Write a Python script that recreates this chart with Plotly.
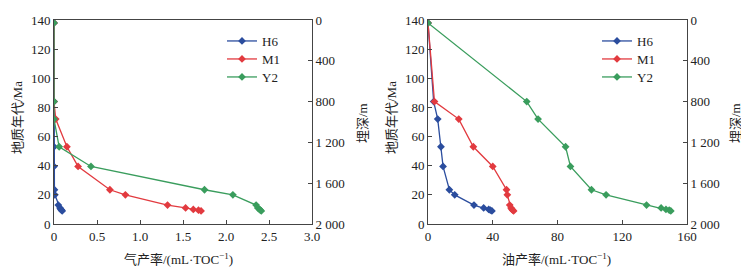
import plotly.graph_objects as go

# Geological age (Ma) of each sample point
ages = [138, 84, 72, 53, 39.5, 23.5, 20, 13, 11, 10, 9.5, 9]

# Gas generation rate (mL/TOC)
gas_H6 = [0, 0, 0, 0, 0, 0.005, 0.01, 0.05, 0.07, 0.08, 0.09, 0.095]
gas_M1 = [0, 0, 0.02, 0.15, 0.28, 0.65, 0.83, 1.32, 1.53, 1.62, 1.68, 1.71]
gas_Y2 = [0, 0, 0, 0.06, 0.43, 1.75, 2.08, 2.35, 2.37, 2.39, 2.40, 2.41]

# Oil generation rate (mL/TOC)
oil_H6 = [0, 3.5, 6, 8, 9.3, 13.2, 16.5, 28.4, 34.4, 37.5, 38.5, 39.5]
oil_M1 = [0, 4, 19, 28, 40, 48.5, 49, 50.5, 51.3, 51.9, 52.4, 52.9]
oil_Y2 = [0, 61, 68, 85, 88, 101, 110, 135, 144, 147, 149, 150]

series_names = ["H6", "M1", "Y2"]
colors = ["#2b4d9e", "#e23a3f", "#3a9d5d"]

age_ticks = [0, 20, 40, 60, 80, 100, 120, 140]
depth_ticks = [0, 400, 800, 1200, 1600, 2000]
depth_labels = ["0", "400", "800", "1 200", "1 600", "2 000"]
gas_ticks = [0, 0.5, 1.0, 1.5, 2.0, 2.5, 3.0]
gas_labels = ["0", "0.5", "1.0", "1.5", "2.0", "2.5", "3.0"]
oil_ticks = [0, 40, 80, 120, 160]

FONT = "Liberation Serif, Times New Roman, Noto Sans CJK SC, serif"
OFF = 8                      # page body margin
W, H = 749 - OFF, 277 - OFF  # figure size
# plot area in window pixels: x 54..687, y 20..224
ML, MR = 54 - OFF, (749 - 687)
MT, MB = 20 - OFF, 277 - 224
PW = W - ML - MR
PH = H - MT - MB


def px(x):   # window pixel -> paper x
    return (x - OFF - ML) / PW


def py(y):   # window pixel -> paper y
    return (H - MB - (y - OFF)) / PH


fig = go.Figure()
legend_rows = [41, 59, 77]
for i, (name, col, g) in enumerate(zip(series_names, colors, [gas_H6, gas_M1, gas_Y2])):
    fig.add_trace(go.Scatter(x=g, y=ages, name=name, mode="lines+markers",
                             line=dict(color=col, width=1.3),
                             marker=dict(symbol="diamond", size=6, color=col),
                             xaxis="x", yaxis="y", legend=f"legend{i + 1 if i else ''}"))
for i, (name, col, o) in enumerate(zip(series_names, colors, [oil_H6, oil_M1, oil_Y2])):
    fig.add_trace(go.Scatter(x=o, y=ages, name=name, mode="lines+markers",
                             line=dict(color=col, width=1.3),
                             marker=dict(symbol="diamond", size=6, color=col),
                             xaxis="x2", yaxis="y3", legend=f"legend{i + 4}"))
# placeholder traces so the depth axes are drawn
fig.add_trace(go.Scatter(x=[None], y=[None], xaxis="x", yaxis="y2",
                         showlegend=False, hoverinfo="skip"))
fig.add_trace(go.Scatter(x=[None], y=[None], xaxis="x2", yaxis="y4",
                         showlegend=False, hoverinfo="skip"))

axis_common = dict(showline=True, linecolor="#444", linewidth=1, ticks="inside",
                   ticklen=4, tickcolor="#444", showgrid=False, zeroline=False,
                   automargin=False,
                   tickfont=dict(family=FONT, size=13, color="#222"))

d1 = [0, (312 - 54) / PW]
d2 = [(428 - 54) / PW, 1]

legends = {}
for i in range(6):
    key = "legend" if i == 0 else f"legend{i + 1}"
    lx = 222 if i < 3 else 597
    ly = legend_rows[i % 3]
    legends[key] = dict(x=px(lx), y=py(ly), xanchor="left", yanchor="middle",
                        bgcolor="rgba(0,0,0,0)", font=dict(family=FONT, size=13),
                        borderwidth=0)

fig.update_layout(
    width=W, height=H,
    margin=dict(l=ML, r=MR, t=MT, b=MB),
    paper_bgcolor="white", plot_bgcolor="white",
    font=dict(family=FONT, size=13, color="#222"),
    xaxis=dict(domain=d1, range=[0, 3], tickvals=gas_ticks, ticktext=gas_labels,
               mirror=True, anchor="y", **axis_common),
    yaxis=dict(range=[0, 140], tickvals=age_ticks, anchor="x", **axis_common),
    yaxis2=dict(range=[2000, 0], tickvals=depth_ticks, ticktext=depth_labels,
                overlaying="y", side="right", anchor="x", **axis_common),
    xaxis2=dict(domain=d2, range=[0, 160], tickvals=oil_ticks,
                mirror=True, anchor="y3", **axis_common),
    yaxis3=dict(range=[0, 140], tickvals=age_ticks, anchor="x2", **axis_common),
    yaxis4=dict(range=[2000, 0], tickvals=depth_ticks, ticktext=depth_labels,
                overlaying="y3", side="right", anchor="x2", **axis_common),
    **legends,
)

ann = dict(xref="paper", yref="paper", showarrow=False, xanchor="center",
           yanchor="middle", font=dict(family=FONT, size=13, color="#222"))
fig.add_annotation(text="气产率/(mL·TOC<sup>−1</sup>)", x=px(178), y=py(259), **ann)
fig.add_annotation(text="油产率/(mL·TOC<sup>−1</sup>)", x=px(556), y=py(259), **ann)
fig.add_annotation(text="地质年代/Ma", x=px(18), y=py(118), textangle=-90, **ann)
fig.add_annotation(text="埋深/m", x=px(362), y=py(123), textangle=-90, **ann)
fig.add_annotation(text="地质年代/Ma", x=px(392), y=py(118), textangle=-90, **ann)
fig.add_annotation(text="埋深/m", x=px(735), y=py(123), textangle=-90, **ann)

fig.write_html("out.html")
